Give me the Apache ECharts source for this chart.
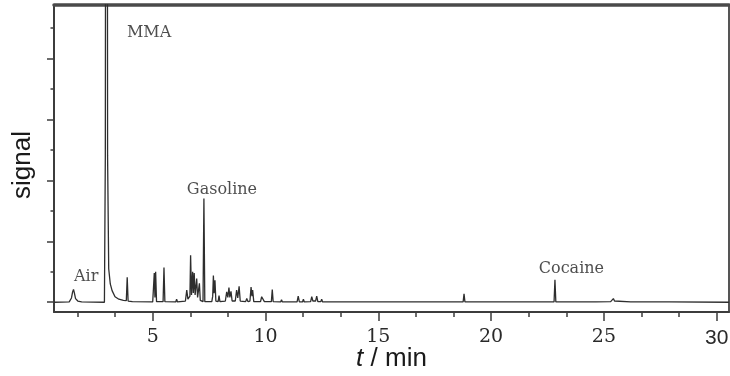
<!DOCTYPE html>
<html>
<head>
<meta charset="utf-8">
<script src="https://cdn.jsdelivr.net/npm/echarts@6/dist/echarts.min.js"></script>
<style>
html,body{margin:0;padding:0;background:#fff;}
#chart{width:730px;height:376px;}
</style>
</head>
<body>
<div id="chart"></div>
<script>
// Chromatogram trace: retention time (min) and detector signal (arb. units, one major y tick = 1)
const traceTime = [
  0.63, 1.30, 1.40, 1.45, 1.49, 1.53, 1.58, 1.68, 1.85,
  2.86, 2.90, 2.96, 3.00, 3.05, 3.12, 3.20, 3.33, 3.50, 3.70,
  3.83, 3.87, 3.91, 4.10,
  5.00, 5.04, 5.07, 5.10, 5.13, 5.17,
  5.46, 5.50, 5.54,
  6.02, 6.06, 6.10,
  6.45, 6.51, 6.56, 6.60, 6.65, 6.68, 6.72, 6.77, 6.80, 6.84, 6.88, 6.91, 6.95, 6.99, 7.03, 7.07, 7.11,
  7.23, 7.27, 7.31,
  7.62, 7.66, 7.69, 7.72, 7.76, 7.80,
  7.90, 7.94, 7.98,
  8.22, 8.28, 8.33, 8.38, 8.42, 8.47, 8.52,
  8.66, 8.72, 8.77, 8.83, 8.88,
  9.12, 9.17, 9.22,
  9.31, 9.36, 9.40, 9.43, 9.48,
  9.78, 9.83, 9.87, 9.90, 9.95,
  10.26, 10.30, 10.34,
  10.67, 10.71, 10.75,
  11.40, 11.45, 11.50,
  11.64, 11.68, 11.72,
  12.00, 12.05, 12.10, 12.22, 12.27, 12.32,
  12.45, 12.49, 12.53,
  12.82, 12.86, 12.90,
  13.19, 13.23, 13.27,
  13.56, 13.60, 13.64,
  13.85, 13.89, 13.93,
  18.76, 18.80, 18.84,
  22.79, 22.83, 22.87,
  23.83, 23.87, 23.91,
  24.64, 24.68, 24.72,
  25.30, 25.35, 25.42, 25.47, 25.55,
  26.19, 26.23, 26.27,
  27.89, 27.93, 27.97,
  30.55
];
const traceSignal = [
  0, 0.005, 0.07, 0.17, 0.21, 0.15, 0.06, 0.02, 0.005,
  0, 2.4, 25, 2.4, 0.55, 0.30, 0.19, 0.09, 0.05, 0.03,
  0.025, 0.41, 0.02, 0.01,
  0.005, 0.02, 0.48, 0.08, 0.50, 0.01,
  0.01, 0.57, 0.01,
  0.005, 0.05, 0.005,
  0.02, 0.20, 0.05, 0.06, 0.10, 0.77, 0.12, 0.50, 0.15, 0.48, 0.12, 0.10, 0.39, 0.08, 0.08, 0.31, 0.03,
  0.01, 1.70, 0.01,
  0.01, 0.10, 0.44, 0.15, 0.36, 0.02,
  0.01, 0.11, 0.01,
  0.02, 0.17, 0.08, 0.24, 0.08, 0.18, 0.02,
  0.02, 0.20, 0.07, 0.26, 0.02,
  0.01, 0.06, 0.01,
  0.02, 0.25, 0.10, 0.20, 0.01,
  0.01, 0.09, 0.06, 0.10, 0.01,
  0.01, 0.21, 0.01,
  0.005, 0.04, 0.005,
  0.005, 0.10, 0.005,
  0.005, 0.05, 0.005,
  0.01, 0.09, 0.02, 0.02, 0.10, 0.01,
  0.01, 0.05, 0.005,
  0.005, 0.02, 0.005,
  0.005, 0.02, 0.005,
  0.005, 0.02, 0.005,
  0.005, 0.02, 0.005,
  0.005, 0.14, 0.005,
  0.005, 0.37, 0.005,
  0.005, 0.02, 0.005,
  0.005, 0.02, 0.005,
  0.01, 0.04, 0.06, 0.02, 0.005,
  0.005, 0.02, 0.005,
  0.005, 0.01, 0.005,
  0
];

// Peak annotations
const annotationNames = ['Air', 'MMA', 'Gasoline', 'Cocaine'];
const annotationTime = [2.05, 4.84, 8.07, 23.56];
const annotationSignal = [0.41, 4.42, 1.84, 0.54];

// Axis ticks
const xMajorTicks = [5, 10, 15, 20, 25, 30];
const xMinorTicks = [1.667, 3.333, 6.667, 8.333, 11.667, 13.333, 16.667, 18.333, 21.667, 23.333, 26.667, 28.333];
const yMajorTicks = [0, 1, 2, 3, 4];
const yMinorTicks = [0.5, 1.5, 2.5, 3.5, 4.5];

const X_MIN = 0.625, X_MAX = 30.545, Y_MIN = -0.16, Y_MAX = 4.874;
const AX = '#3c3c3c';

const chart = echarts.init(document.getElementById('chart'), null, {renderer: 'canvas'});
const traceData = traceTime.map((t, i) => [t, traceSignal[i]]);
const annData = annotationNames.map((n, i) => ({name: n, value: [annotationTime[i], annotationSignal[i]]}));

chart.setOption({
  animation: false,
  backgroundColor: '#fff',
  grid: {left: 54, right: 1, top: 5, bottom: 64, containLabel: false, outerBoundsMode: 'none'},
  xAxis: [
    {
      type: 'value', min: X_MIN, max: X_MAX, position: 'bottom',
      axisLine: {show: true, onZero: false, lineStyle: {color: AX, width: 2}},
      axisTick: {show: true, inside: false, length: 9, customValues: xMajorTicks, lineStyle: {color: AX, width: 1.5}},
      axisLabel: {
        show: true, customValues: xMajorTicks, margin: 16,
        fontFamily: 'DejaVu Serif', fontSize: 19, color: '#2a2a2a',
        formatter: v => (v === 30 ? '{s|30}' : String(v)),
        rich: {s: {fontFamily: 'Liberation Sans', fontSize: 21, color: '#2a2a2a'}}
      },
      splitLine: {show: false},
      name: '{i|t} / min', nameLocation: 'middle', nameGap: 34, nameMoveOverlap: false,
      nameTextStyle: {
        fontFamily: 'Liberation Sans', fontSize: 26, color: '#1a1a1a',
        rich: {i: {fontFamily: 'Liberation Sans', fontStyle: 'italic', fontSize: 26, color: '#1a1a1a'}}
      }
    },
    {
      type: 'value', min: X_MIN, max: X_MAX, position: 'bottom',
      axisLine: {show: false, onZero: false},
      axisTick: {show: true, inside: false, length: 5, customValues: xMinorTicks, lineStyle: {color: AX, width: 1.5}},
      axisLabel: {show: false},
      splitLine: {show: false}
    },
    {
      type: 'value', min: X_MIN, max: X_MAX, position: 'top',
      axisLine: {show: true, onZero: false, lineStyle: {color: '#4a4a4a', width: 3.5}},
      axisTick: {show: false}, axisLabel: {show: false}, splitLine: {show: false}
    }
  ],
  yAxis: [
    {
      type: 'value', min: Y_MIN, max: Y_MAX, position: 'left',
      axisLine: {show: true, onZero: false, lineStyle: {color: AX, width: 2}},
      axisTick: {show: true, inside: false, length: 7, customValues: yMajorTicks, lineStyle: {color: AX, width: 1.5}},
      axisLabel: {show: false},
      splitLine: {show: false},
      name: 'signal', nameLocation: 'middle', nameGap: 18, nameRotate: 90, nameMoveOverlap: false,
      nameTextStyle: {fontFamily: 'Liberation Sans', fontSize: 26, color: '#1a1a1a', padding: [0, 13, 0, 0]}
    },
    {
      type: 'value', min: Y_MIN, max: Y_MAX, position: 'left',
      axisLine: {show: false, onZero: false},
      axisTick: {show: true, inside: false, length: 3.5, customValues: yMinorTicks, lineStyle: {color: AX, width: 1.5}},
      axisLabel: {show: false}, splitLine: {show: false}
    },
    {
      type: 'value', min: Y_MIN, max: Y_MAX, position: 'right',
      axisLine: {show: true, onZero: false, lineStyle: {color: '#555', width: 2}},
      axisTick: {show: false}, axisLabel: {show: false}, splitLine: {show: false}
    }
  ],
  series: [
    {
      type: 'line', xAxisIndex: 0, yAxisIndex: 0,
      data: traceData, symbol: 'none', clip: true,
      lineStyle: {color: '#2e2e2e', width: 1.3}
    },
    {
      type: 'scatter', xAxisIndex: 0, yAxisIndex: 0,
      data: annData, symbolSize: 0, silent: true,
      label: {
        show: true, position: 'inside', formatter: p => p.name,
        fontFamily: 'DejaVu Serif', fontSize: 16, color: '#222'
      }
    }
  ]
});
</script>
</body>
</html>
